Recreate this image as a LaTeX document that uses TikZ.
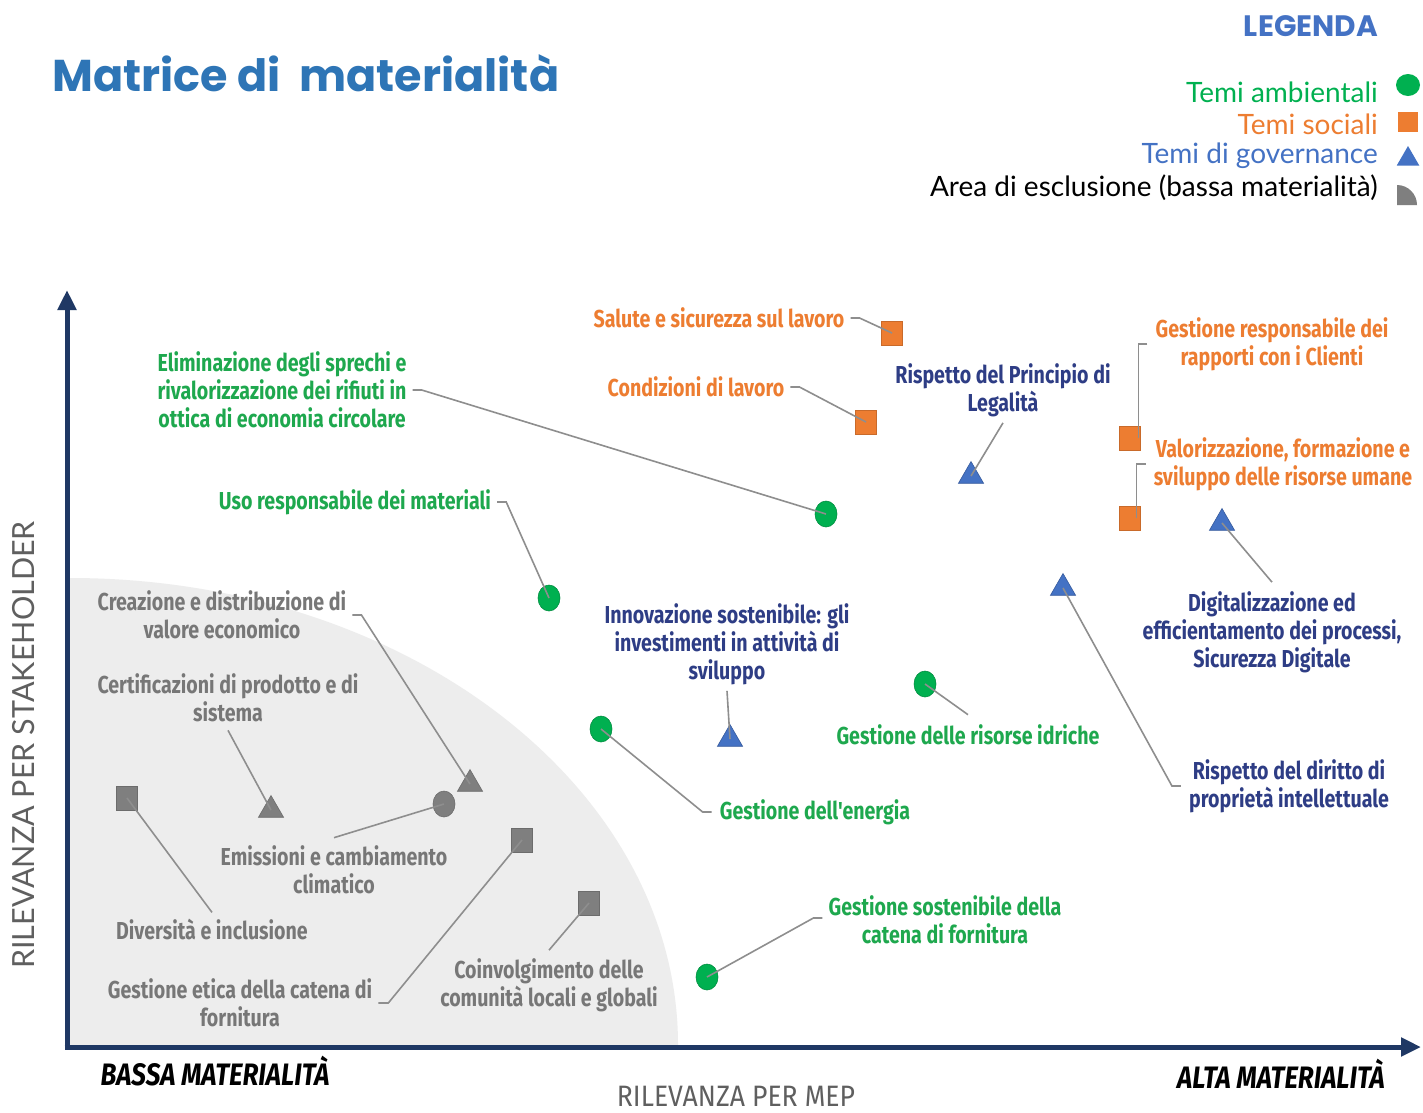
\documentclass[tikz,border=0pt]{standalone}
\usepackage{fontspec}
\setmainfont{Fira Sans}
\newfontfamily\condfont[FakeStretch=0.8]{Fira Sans}
\newfontfamily\axfont[FakeStretch=0.9]{Fira Sans}
\newfontfamily\matfont[FakeStretch=0.84]{Fira Sans}
\newfontfamily\titlefont{Poppins}
\newfontfamily\legfont{Lato}
\usetikzlibrary{arrows.meta,shapes.geometric,calc}
\definecolor{envgreen}{HTML}{00B050}
\definecolor{envtext}{HTML}{1EA84E}
\definecolor{socorange}{HTML}{ED7D31}
\definecolor{govblue}{HTML}{4472C4}
\definecolor{govtext}{HTML}{2E3D85}
\definecolor{exgray}{HTML}{7F7F7F}
\definecolor{extext}{HTML}{777777}
\definecolor{areagray}{HTML}{EDEDED}
\definecolor{leadgray}{HTML}{8E8E8E}
\definecolor{axisnavy}{HTML}{1F3864}
\definecolor{titleblue}{HTML}{2E75B6}
\definecolor{axlabel}{HTML}{5F5F5F}
\tikzset{
  lbl/.style={font=\condfont\bfseries\fontsize{24.5}{28}\selectfont, align=center, inner sep=0pt},
  envlbl/.style={lbl, text=envtext},
  soclbl/.style={lbl, text=socorange},
  govlbl/.style={lbl, text=govtext},
  exlbl/.style={lbl, text=extext},
  envmk/.style={ellipse, minimum width=22, minimum height=26, inner sep=0pt, fill=envgreen, draw=envgreen!80!black, line width=0.6},
  socmk/.style={rectangle, minimum width=21, minimum height=24, inner sep=0pt, fill=socorange, draw=socorange!85!black, line width=0.6},
  govmk/.style={regular polygon, regular polygon sides=3, minimum size=29, inner sep=0pt, fill=govblue, draw=govblue!80!black, line width=0.6},
  exsq/.style={rectangle, minimum width=21, minimum height=24, inner sep=0pt, fill=exgray, draw=exgray!85!black, line width=0.6},
  extri/.style={regular polygon, regular polygon sides=3, minimum size=29, inner sep=0pt, fill=exgray, draw=exgray!85!black, line width=0.6},
  excirc/.style={ellipse, minimum width=22, minimum height=26, inner sep=0pt, fill=exgray, draw=exgray!85!black, line width=0.6},
  lead/.style={draw=leadgray, line width=1.6},
  axis/.style={draw=axisnavy, line width=5, -{Triangle[width=18pt,length=20pt]}},
  legtxt/.style={font=\legfont\fontsize{28}{32}\selectfont, anchor=east, inner sep=0pt},
  matlbl/.style={font=\matfont\bfseries\itshape\fontsize{31}{34}\selectfont, inner sep=0pt},
}
\begin{document}
\begin{tikzpicture}[x=1pt,y=-1pt]
\useasboundingbox[fill=white] (0,0) rectangle (1423,1112);

% title and legend
\node[font=\titlefont\bfseries\fontsize{44.5}{50}\selectfont, text=titleblue, anchor=west, inner sep=0pt] (title) at (52,73) {Matrice di\ \ materialità};
\node[font=\titlefont\bfseries\fontsize{29.5}{32}\selectfont, text=govblue, anchor=east, inner sep=0pt] (legenda) at (1378,26) {LEGENDA};
\node[legtxt, text=envgreen] (lg1) at (1378,92) {Temi ambientali};
\node[legtxt, text=socorange] (lg2) at (1378,124) {Temi sociali};
\node[legtxt, text=govblue] (lg3) at (1378,156) {Temi di governance};
\node[legtxt, text=black] (lg4) at (1378,188) {Area di esclusione (bassa materialità)};
\node[ellipse, minimum width=24, minimum height=22, inner sep=0pt, fill=envgreen] (ls1) at (1408,85) {};
\node[rectangle, minimum width=20, minimum height=20, inner sep=0pt, fill=socorange] (ls2) at (1408,122) {};
\node[regular polygon, regular polygon sides=3, minimum size=26, inner sep=0pt, fill=govblue] (ls3) at (1408,159) {};
\fill[exgray] (1397,205) -- (1397,185) .. controls (1408,185) and (1417,194) .. (1417,205) -- cycle;

% exclusion area
\fill[areagray] (70,1045) -- (70,578) .. controls (406,578) and (678,787) .. (678,1045) -- cycle;

% axes
\coordinate (origin) at (67,1047);
\coordinate (ytip) at (67,290);
\coordinate (xtip) at (1421,1047);
\draw[axis] ([yshift=2.5pt]origin) -- (ytip);
\draw[axis] ([xshift=-2.5pt]origin) -- (xtip);
\node[font=\legfont\fontsize{30.5}{32}\selectfont, text=axlabel, rotate=90, inner sep=0pt] (ylab) at (24,745) {RILEVANZA PER STAKEHOLDER};
\node[font=\axfont\fontsize{29.5}{30}\selectfont, text=axlabel, inner sep=0pt] (xlab) at (736,1096) {RILEVANZA PER MEP};
\node[matlbl] (bassa) at (215,1071) {BASSA MATERIALITÀ};
\node[matlbl] (alta) at (1281,1074) {ALTA MATERIALITÀ};

% markers
\node[envmk] (m1) at (826,514) {};
\node[envmk] (m2) at (549,598) {};
\node[envmk] (m3) at (601,729) {};
\node[envmk] (m4) at (925,684) {};
\node[envmk] (m5) at (707,977) {};
\node[socmk] (m6) at (892,333) {};
\node[socmk] (m7) at (866,422) {};
\node[socmk] (m8) at (1130,438) {};
\node[socmk] (m9) at (1130,518) {};
\node[govmk] (m10) at (971,476) {};
\node[govmk] (m11) at (1222,523) {};
\node[govmk] (m12) at (1063,588) {};
\node[govmk] (m13) at (730,739) {};
\node[extri] (m14) at (470,784) {};
\node[extri] (m15) at (271,810) {};
\node[excirc] (m16) at (444,804) {};
\node[exsq] (m17) at (127,798) {};
\node[exsq] (m18) at (522,840) {};
\node[exsq] (m19) at (589,903) {};

% labels
\node[envlbl] (l1) at (282,390) {Eliminazione degli sprechi e\\rivalorizzazione dei rifiuti in\\ottica di economia circolare};
\node[envlbl] (l2) at (355,502) {Uso responsabile dei materiali};
\node[envlbl] (l3) at (815,812) {Gestione dell'energia};
\node[envlbl] (l4) at (968,735) {Gestione delle risorse idriche};
\node[envlbl] (l5) at (945,920) {Gestione sostenibile della\\catena di fornitura};
\node[soclbl] (l6) at (719,318) {Salute e sicurezza sul lavoro};
\node[soclbl] (l7) at (696,387) {Condizioni di lavoro};
\node[soclbl] (l8) at (1272,344) {Gestione responsabile dei\\rapporti con i Clienti};
\node[soclbl] (l9) at (1283,464) {Valorizzazione, formazione e\\sviluppo delle risorse umane};
\node[govlbl] (l10) at (1003,390) {Rispetto del Principio di\\Legalità};
\node[govlbl] (l11) at (1272,632) {Digitalizzazione ed\\efficientamento dei processi,\\Sicurezza Digitale};
\node[govlbl] (l12) at (1289,786) {Rispetto del diritto di\\proprietà intellettuale};
\node[govlbl] (l13) at (727,644) {Innovazione sostenibile: gli\\investimenti in attività di\\sviluppo};
\node[exlbl] (l14) at (222,615) {Creazione e distribuzione di\\valore economico};
\node[exlbl] (l15) at (228,698) {Certificazioni di prodotto e di\\sistema};
\node[exlbl] (l16) at (334,870) {Emissioni e cambiamento\\climatico};
\node[exlbl] (l17) at (212,929) {Diversità e inclusione};
\node[exlbl] (l18) at (240,1003) {Gestione etica della catena di\\fornitura};
\node[exlbl] (l19) at (549,985) {Coinvolgimento delle\\comunità locali e globali};

% leaders
\draw[lead] ([xshift=6pt]l1.east) -- ++(9,0) -- (m1.center);
\draw[lead] ([xshift=6pt]l2.east) -- ++(9,0) -- (m2.center);
\draw[lead] ([xshift=-8pt]l3.west) -- ++(-9,0) -- (m3.center);
\draw[lead] ([yshift=10pt]l4.north) -- (m4.center);
\draw[lead] ([xshift=-6pt,yshift=2pt]l5.west) -- ++(-9,0) -- (m5.center);
\draw[lead] ([xshift=6pt]l6.east) -- ++(9,0) -- (m6.center);
\draw[lead] ([xshift=6pt]l7.east) -- ++(9,0) -- (m7.center);
\draw[lead] ([xshift=-8pt]l8.west) -- ++(-9,0) coordinate (c8) -- (c8 |- m8.center);
\draw[lead] ([xshift=-8pt]l9.west) -- ++(-9,0) coordinate (c9) -- (c9 |- m9.center);
\draw[lead] ([yshift=-6pt]l10.south) -- (m10.center);
\draw[lead] ([yshift=9pt]l11.north) -- (m11.center);
\draw[lead] ([xshift=-8pt]l12.west) -- ++(-9,0) -- (m12.center);
\draw[lead] ([yshift=-6pt]l13.south) -- (m13.center);
\draw[lead] ([xshift=6pt]l14.east) -- ++(9,0) -- (m14.center);
\draw[lead] ([yshift=-8pt]l15.south) -- (m15.center);
\draw[lead] ([yshift=8pt]l16.north) -- (m16.center);
\draw[lead] ([yshift=6pt]l17.north) -- (m17.center);
\draw[lead] ([xshift=6pt]l18.east) -- ++(10,0) -- (m18.center);
\draw[lead] ([yshift=8pt]l19.north) -- (m19.center);
\end{tikzpicture}
\end{document}
